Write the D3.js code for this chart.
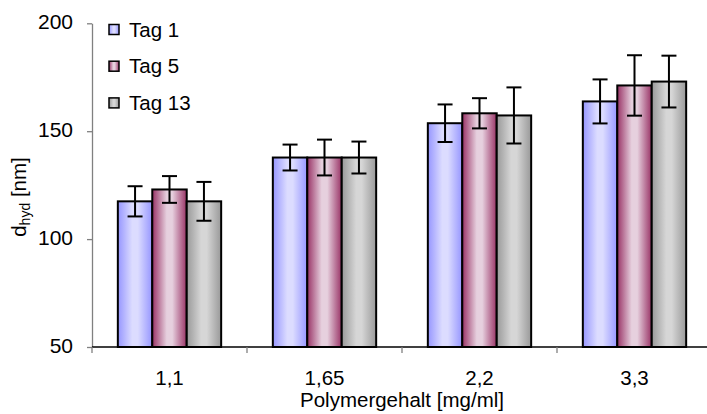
<!DOCTYPE html>
<html>
<head>
<meta charset="utf-8">
<script src="https://cdn.jsdelivr.net/npm/d3@7"></script>
<style>
  html, body { margin: 0; padding: 0; background: #fff; }
  svg { display: block; font-family: Arial, "Liberation Sans", sans-serif; }
</style>
</head>
<body>
<svg id="chart" width="707" height="414"></svg>
<script>
// Hydrodynamic diameter by polymer content, measured on day 1, 5 and 13
const categories = ["1,1", "1,65", "2,2", "3,3"];
const seriesNames = ["Tag 1", "Tag 5", "Tag 13"];
const tag1 = [117.5, 137.8, 153.7, 163.8];
const tag5 = [123.0, 137.8, 158.3, 171.2];
const tag13 = [117.5, 137.8, 157.3, 173.0];
const err1 = [7.0, 6.0, 8.7, 10.2];
const err5 = [6.2, 8.3, 7.0, 14.0];
const err13 = [9.0, 7.4, 13.0, 12.0];
const yTicks = [50, 100, 150, 200];
const yLabel = "d";
const yLabelSub = "hyd";
const yLabelUnit = " [nm]";
const xLabel = "Polymergehalt [mg/ml]";

const seriesValues = [tag1, tag5, tag13];
const seriesErrors = [err1, err5, err13];
// edge colour / centre colour of each bar's horizontal gradient
const seriesShades = [
  ["#9696ff", "#dcdcff"],
  ["#993366", "#e6d0de"],
  ["#999999", "#d6d6d6"]
];

const svg = d3.select("#chart");
const defs = svg.append("defs");
seriesShades.forEach((s, i) => {
  const g = defs.append("linearGradient")
    .attr("id", "grad" + i)
    .attr("x1", "0").attr("x2", "1").attr("y1", "0").attr("y2", "0");
  g.append("stop").attr("offset", "0%").attr("stop-color", s[0]);
  g.append("stop").attr("offset", "42%").attr("stop-color", s[1]);
  g.append("stop").attr("offset", "58%").attr("stop-color", s[1]);
  g.append("stop").attr("offset", "100%").attr("stop-color", s[0]);
});

const x0 = 92, x1 = 712, yTop = 23.3, yBot = 347;
const fs = 20.5;
const x = d3.scaleBand().domain(categories).range([x0, x1]).paddingInner(0).paddingOuter(0);
const xs = d3.scaleBand().domain(d3.range(seriesNames.length))
  .range([0, x.bandwidth()]).paddingInner(0).paddingOuter(0.75);
const y = d3.scaleLinear().domain([50, 200]).range([yBot, yTop]);

// bars
const rows = [];
categories.forEach((c, ci) => {
  seriesValues.forEach((vals, si) => {
    rows.push({ c, si, v: vals[ci], e: seriesErrors[si][ci] });
  });
});

svg.append("g").selectAll("rect").data(rows).join("rect")
  .attr("x", d => x(d.c) + xs(d.si))
  .attr("y", d => y(d.v))
  .attr("width", xs.bandwidth())
  .attr("height", d => y(50) - y(d.v))
  .attr("fill", d => `url(#grad${d.si})`)
  .attr("stroke", "#000")
  .attr("stroke-width", 2);

// error bars
const eb = svg.append("g").attr("stroke", "#000").attr("stroke-width", 2);
const cap = 7.5;
rows.forEach(d => {
  const cx = x(d.c) + xs(d.si) + xs.bandwidth() / 2;
  eb.append("line").attr("x1", cx).attr("x2", cx).attr("y1", y(d.v + d.e)).attr("y2", y(d.v - d.e));
  eb.append("line").attr("x1", cx - cap).attr("x2", cx + cap).attr("y1", y(d.v + d.e)).attr("y2", y(d.v + d.e));
  eb.append("line").attr("x1", cx - cap).attr("x2", cx + cap).attr("y1", y(d.v - d.e)).attr("y2", y(d.v - d.e));
});

// y axis
const yAxis = svg.append("g").attr("transform", `translate(${x0},0)`)
  .call(d3.axisLeft(y).tickValues(yTicks).tickSize(5).tickPadding(14).tickSizeOuter(0));
yAxis.select(".domain").attr("stroke", "#808080").attr("stroke-width", 1.3);
yAxis.selectAll(".tick line").attr("stroke", "#808080").attr("stroke-width", 1.3);
yAxis.selectAll(".tick text").attr("font-size", 21).attr("fill", "#000")
  .attr("font-family", "Arial, 'Liberation Sans', sans-serif").attr("dy", "0.25em");

// x axis: ticks at the category boundaries, labels in the middle
const xAxisG = svg.append("g");
xAxisG.append("line").attr("x1", x0).attr("x2", 707).attr("y1", yBot).attr("y2", yBot)
  .attr("stroke", "#000").attr("stroke-width", 1.5);
categories.forEach(c => {
  const bx = x(c);
  xAxisG.append("line").attr("x1", bx).attr("x2", bx).attr("y1", yBot).attr("y2", yBot + 6)
    .attr("stroke", "#808080").attr("stroke-width", 1.3);
});
xAxisG.selectAll("text").data(categories).join("text")
  .attr("x", c => x(c) + x.bandwidth() / 2)
  .attr("y", 385)
  .attr("text-anchor", "middle")
  .attr("font-size", fs)
  .text(c => c);

// axis titles
svg.append("text").attr("x", 402).attr("y", 407).attr("text-anchor", "middle")
  .attr("font-size", fs).text(xLabel);

const yt = svg.append("text").attr("transform", "translate(26,197) rotate(-90)")
  .attr("text-anchor", "middle").attr("font-size", fs);
yt.append("tspan").text(yLabel);
yt.append("tspan").attr("font-size", 14).attr("dy", 4).text(yLabelSub);
yt.append("tspan").attr("dy", -4).text(yLabelUnit);

// legend
const legend = svg.append("g");
seriesNames.forEach((name, i) => {
  const cy = 29.5 + i * 36.7;
  legend.append("rect").attr("x", 109).attr("y", cy - 5).attr("width", 10).attr("height", 10)
    .attr("fill", `url(#grad${i})`).attr("stroke", "#000").attr("stroke-width", 1.5);
  legend.append("text").attr("x", 129).attr("y", cy + 7).attr("font-size", fs).text(name);
});
</script>
</body>
</html>
